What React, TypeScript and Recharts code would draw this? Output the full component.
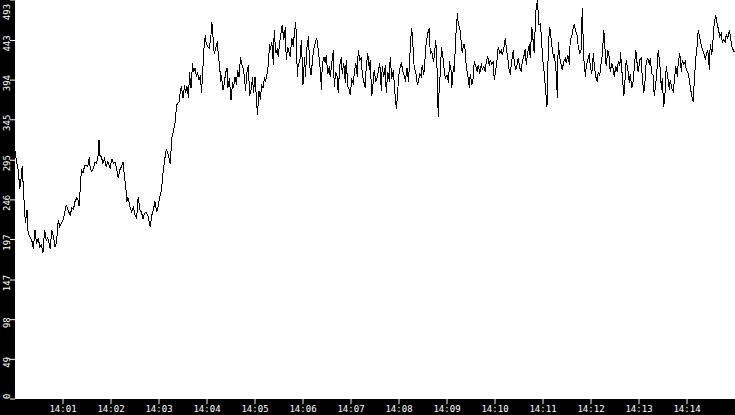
import { LineChart, Line, XAxis, YAxis, CartesianGrid } from 'recharts';

// seconds after 14:00:00
const seconds = [
  0, 2, 4, 6, 8, 9, 11, 12, 13, 15, 16, 18, 21, 23, 25, 27, 29, 31, 33, 35,
  37, 39, 41, 44, 46, 48, 50, 52, 54, 56, 58, 60, 62, 64, 66, 69, 71, 73, 75, 77,
  79, 80, 81, 83, 85, 87, 89, 91, 93, 94, 96, 98, 100, 102, 104, 105, 106, 108, 110, 112,
  114, 116, 119, 121, 123, 125, 127, 129, 131, 133, 135, 136, 139, 140, 141, 144, 146, 148, 150, 152,
  154, 156, 158, 160, 162, 164, 166, 169, 171, 173, 175, 177, 179, 181, 183, 185, 187, 189, 191, 194,
  196, 200, 202, 205, 207, 208, 210, 212, 213, 215, 217, 218, 220, 222, 223, 225, 227, 228, 230, 232,
  233, 234, 235, 236, 238, 239, 241, 243, 245, 246, 248, 249, 251, 252, 253, 254, 256, 257, 258, 260,
  262, 263, 265, 266, 268, 270, 272, 273, 275, 277, 278, 280, 282, 283, 285, 287, 288, 290, 292, 293,
  295, 297, 298, 300, 302, 303, 305, 307, 308, 310, 312, 313, 315, 317, 318, 319, 321, 323, 324, 326,
  328, 329, 331, 333, 334, 336, 338, 339, 341, 343, 344, 346, 348, 349, 351, 353, 354,
  356, 358, 360, 362, 363, 365, 367, 368, 370, 372, 373, 375, 377, 378, 380, 382, 383, 384, 386, 388,
  389, 391, 393, 394, 396, 398, 399, 401, 403, 404, 406, 408, 409, 411, 413, 414, 416, 418, 419, 421,
  423, 424, 426, 428, 429, 431, 433, 434, 436, 438, 439, 441, 443, 444, 446, 448, 449, 451, 453, 454,
  456, 458, 459, 461, 463, 464, 466, 468, 469, 471, 473, 474, 476, 477, 478, 480, 482, 483, 485, 487,
  488, 490, 492, 493, 495, 496, 498, 499, 501, 503, 504, 506, 508, 509, 511, 513, 514, 516, 518, 519,
  521, 523, 524, 526, 528, 529, 530, 532, 533, 535, 537, 538, 540, 542,
  543, 545, 546, 548, 549, 551, 553, 554, 556, 558, 559, 561, 563, 564, 566, 568, 569, 571, 573, 574,
  576, 578, 579, 581, 583, 584, 586, 588, 589, 591, 593, 594, 596, 598, 599, 601, 603, 604, 606, 608,
  609, 611, 613, 614, 616, 618, 619, 621, 623, 624, 626, 628, 629, 631, 633, 634, 636, 638, 639, 641,
  643, 644, 646, 648, 649, 651, 653, 654, 655, 657, 658, 660, 662, 663, 665, 666, 668, 669, 671, 673,
  674, 676, 678, 679, 681, 683, 684, 686, 688, 689, 691, 693, 694, 696, 698, 699, 701, 703, 704, 706,
  708, 709, 711, 713, 714, 716, 718, 719, 721, 723, 724, 726, 728, 729,
  731, 733, 734, 736, 738, 739, 741, 743, 744, 746, 748, 749, 751, 753, 754, 756, 757, 758, 760, 761,
  763, 764, 766, 768, 769, 771, 773, 774, 776, 778, 779, 781, 783, 784, 786, 788, 789, 791, 793, 794,
  796, 798, 799, 801, 803, 804, 806, 808, 809, 811, 813, 814, 816, 818, 819, 821, 823, 824, 826, 828,
  829, 831, 833, 834, 836, 838, 839, 841, 843, 844, 846, 848, 849, 851, 853, 854, 856, 858, 859, 861,
  863, 864, 866, 868, 869, 871, 873, 874, 876, 878, 879, 881, 883, 884, 886, 888, 889, 891, 893, 894,
  896, 898, 899,
];

const rate = [
  306, 293, 283, 260, 275, 288, 250, 234, 217, 234, 209, 201, 196, 186, 209, 192, 199, 188, 190, 181,
  209, 196, 199, 186, 209, 201, 188, 194, 221, 213, 217, 221, 229, 240, 234, 227, 236, 234, 244, 248,
  246, 238, 252, 283, 279, 288, 289, 287, 299, 285, 281, 285, 293, 291, 301, 320, 301, 299, 291, 297,
  287, 293, 285, 297, 291, 293, 285, 273, 283, 287, 293, 283, 256, 244, 250, 236, 231, 238, 227, 223,
  250, 234, 231, 223, 229, 231, 227, 213, 227, 234, 244, 231, 238, 250, 258, 279, 295, 308, 304, 291,
  322, 341, 363, 367, 382, 386, 372, 388, 378, 386, 372, 404, 384, 415, 404, 409, 398, 404, 394, 400,
  378, 392, 411, 431, 450, 439, 435, 433, 450, 466, 441, 427, 433, 439, 441, 427, 409, 392, 400, 382,
  392, 402, 409, 384, 396, 369, 392, 384, 398, 388, 407, 398, 423, 415, 409, 398, 380, 404, 413, 374,
  382, 398, 378, 398, 369, 351, 380, 369, 388, 384, 398, 392, 402, 415, 439, 431, 441, 413, 456, 427,
  433, 423, 441, 456, 462, 444, 460, 419, 435, 427, 423, 446, 435, 450, 466, 398, 413,
  417, 444, 388, 423, 398, 435, 448, 415, 400, 419, 431, 439, 446, 441, 423, 402, 382, 411, 423, 415,
  425, 402, 411, 398, 415, 431, 386, 404, 398, 378, 413, 423, 402, 415, 390, 419, 386, 382, 376, 394,
  390, 402, 415, 398, 431, 419, 421, 402, 392, 384, 411, 427, 407, 419, 374, 394, 407, 392, 398, 404,
  415, 380, 411, 398, 413, 378, 404, 392, 423, 396, 407, 390, 365, 359, 376, 402, 413, 415, 404, 398,
  392, 409, 392, 415, 448, 458, 427, 409, 404, 388, 392, 402, 398, 413, 400, 427, 441, 452, 458, 427,
  429, 417, 423, 444, 398, 349, 378, 409, 435, 421, 402, 396, 400, 390,
  417, 407, 384, 411, 404, 448, 477, 464, 458, 439, 427, 439, 431, 411, 400, 384, 402, 388, 398, 417,
  411, 404, 413, 402, 415, 407, 411, 404, 417, 423, 411, 419, 413, 417, 394, 407, 423, 435, 427, 431,
  425, 433, 446, 435, 421, 404, 402, 419, 431, 417, 407, 415, 421, 409, 404, 417, 423, 433, 413, 429,
  439, 421, 460, 439, 427, 479, 493, 477, 462, 464, 444, 417, 398, 384, 361, 411, 460, 456, 437, 423,
  425, 411, 372, 441, 421, 411, 407, 417, 421, 415, 425, 413, 444, 448, 460, 462, 454, 448, 435, 427,
  433, 483, 421, 398, 411, 419, 427, 411, 402, 427, 413, 398, 392, 404,
  400, 419, 423, 456, 425, 411, 431, 421, 404, 415, 407, 398, 411, 404, 417, 411, 429, 413, 388, 374,
  400, 419, 407, 390, 402, 384, 394, 409, 431, 411, 404, 419, 421, 398, 378, 398, 417, 421, 413, 421,
  402, 400, 374, 390, 413, 431, 415, 382, 396, 361, 384, 411, 398, 382, 394, 384, 380, 392, 411, 398,
  415, 427, 404, 419, 413, 417, 407, 404, 394, 386, 374, 367, 392, 421, 439, 456, 446, 437, 433, 427,
  419, 425, 431, 407, 439, 425, 450, 464, 474, 462, 458, 448, 452, 441, 444, 441, 450, 446, 456, 450,
  435, 431, 429,
];

const minuteTicks = [60, 120, 180, 240, 300, 360, 420, 480, 540, 600, 660, 720, 780, 840];
const valueTicks = [0, 49, 98, 147, 197, 246, 295, 345, 394, 443, 493];

const data = seconds.map((s, i) => ({ s, v: rate[i] }));

const W = 735;
const H = 415;
const PLOT_BOTTOM = 399;
const FONT = '"DejaVu Sans Mono", monospace';

function YTick(props: any) {
  const { y, payload } = props;
  const label = String(payload.value);
  const half = (label.length * 5.4) / 2;
  const cy = Math.min(Math.max(y + 3, half), PLOT_BOTTOM - half);
  return (
    <text
      transform={`translate(10, ${cy}) rotate(-90)`}
      textAnchor="middle"
      fill="#fff"
      fontSize={9}
      fontFamily={FONT}
    >
      {label}
    </text>
  );
}

export default function App() {
  return (
    <div style={{ width: W, height: H, background: '#000' }}>
      <style>{'body{margin:0;background:#000}'}</style>
      <LineChart width={W} height={H} data={data} margin={{ top: 0, right: 0, left: 0, bottom: 0 }}>
        <CartesianGrid fill="#fff" stroke="none" horizontal={false} vertical={false} />
        <XAxis
          dataKey="s"
          type="number"
          domain={[0, 900]}
          ticks={minuteTicks}
          tickFormatter={(s: number) => `14:${String(s / 60).padStart(2, '0')}`}
          height={16}
          tickSize={5}
          tickMargin={2}
          axisLine={false}
          tickLine={{ stroke: '#fff' }}
          tick={{ fill: '#fff', fontSize: 9, fontFamily: FONT }}
          allowDataOverflow
        />
        <YAxis
          type="number"
          domain={[0, 493]}
          ticks={valueTicks}
          width={15}
          tickSize={5}
          axisLine={false}
          tickLine={{ stroke: '#fff' }}
          tick={(p: any) => <YTick {...p} />}
          allowDataOverflow
        />
        <Line
          type="linear"
          dataKey="v"
          stroke="#000"
          strokeWidth={1}
          dot={false}
          isAnimationActive={false}
          shapeRendering="crispEdges"
        />
      </LineChart>
    </div>
  );
}
